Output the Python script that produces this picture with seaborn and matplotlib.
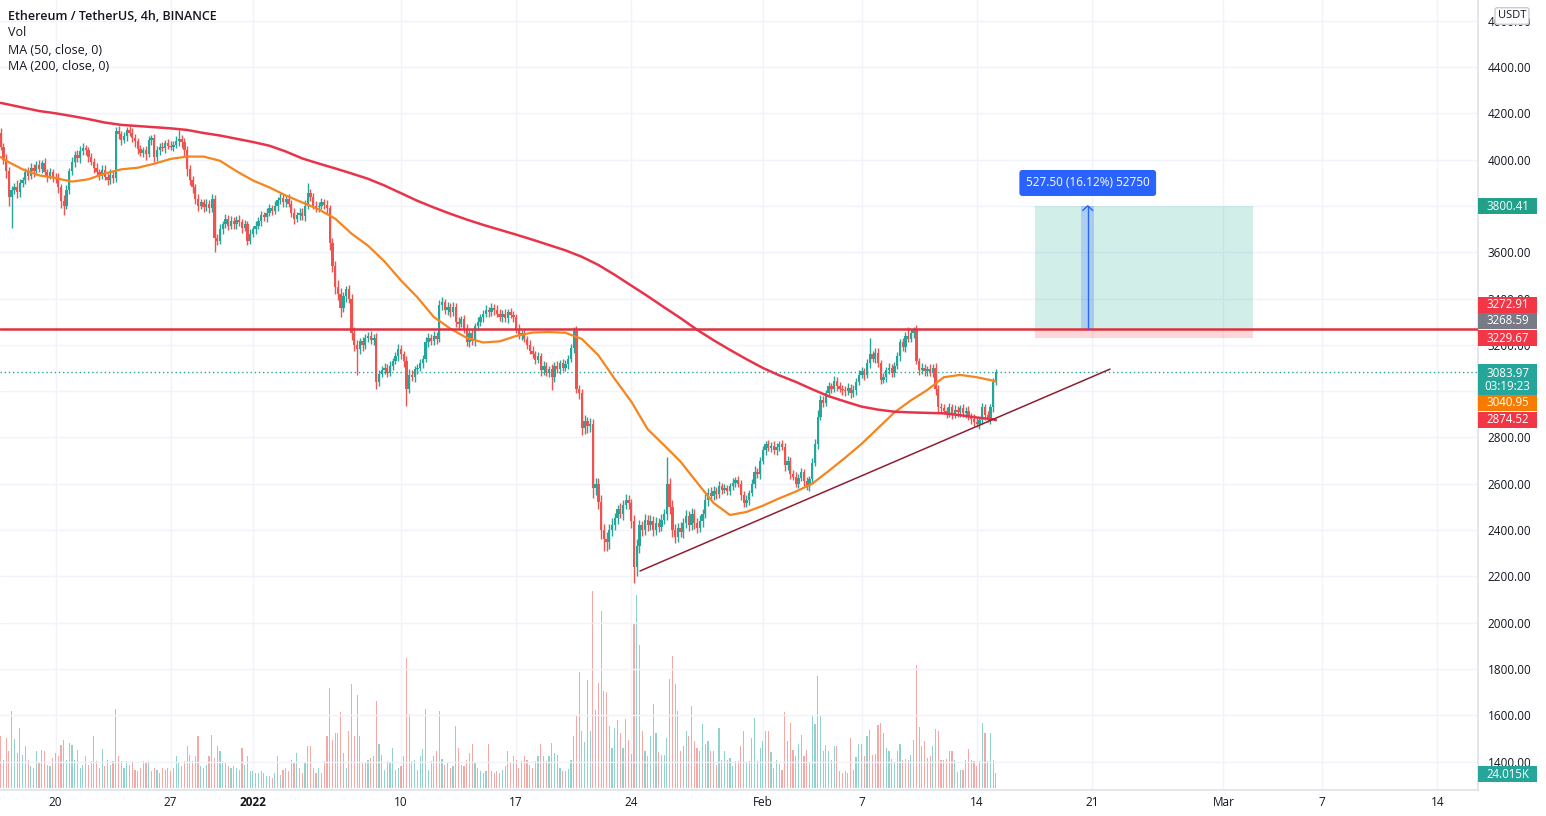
import numpy as np
import pandas as pd
import matplotlib
matplotlib.use("Agg")
import matplotlib.pyplot as plt
import seaborn as sns
from matplotlib.patches import Rectangle

sns.set_theme(style="white")
plt.rcParams['font.family'] = ['Open Sans', 'DejaVu Sans']

# ---------------- data ----------------
start_time = "2021-12-16 16:00"
ref_time = "2021-12-20 00:00"
first_open = 4115
closes = [
    4055, 4000,
    3950, 3840, 3870, 3880, 3860, 3900,   # Dec 17
    3910, 3945, 3930, 3965, 3950, 3975,
    3960, 3985, 3945, 3930, 3945, 3925,
    3920, 3880, 3820, 3800, 3870, 3950,   # Dec 20
    3990, 4020, 4005, 4035, 4050, 4040,
    4010, 3990, 3965, 3945, 3930, 3955,
    3925, 3910, 3935, 3920, 4125, 4110,
    4085, 4100, 4130, 4115, 4095, 4080,
    4045, 4030, 4040, 4025, 4085, 4095,   # Dec 25
    4010, 4040, 4055, 4050, 4070, 4060,
    4055, 4065, 4080, 4090, 4075, 4040,
    3960, 3910, 3880, 3830, 3800, 3815,
    3795, 3810, 3790, 3830, 3660, 3650,
    3700, 3720, 3745, 3715, 3735, 3720,   # Dec 30
    3740, 3730, 3705, 3720, 3650, 3680,
    3700, 3715, 3735, 3760, 3750, 3770,   # Jan 1
    3790, 3780, 3800, 3825, 3835, 3815,
    3830, 3810, 3770, 3745, 3760, 3770,
    3755, 3800, 3855, 3840, 3800, 3795,
    3800, 3815, 3805, 3790, 3640, 3540,   # Jan 5
    3450, 3420, 3360, 3410, 3440, 3400,
    3250, 3200, 3180, 3215, 3200, 3230,
    3240, 3220, 3230, 3040, 3075, 3090,
    3100, 3080, 3110, 3130, 3150, 3180,
    3160, 3130, 3010, 3070, 3060, 3095,   # Jan 10
    3100, 3120, 3140, 3210, 3230, 3215,
    3240, 3225, 3370, 3385, 3350, 3365,
    3340, 3365, 3300, 3290, 3310, 3270,
    3210, 3250, 3215, 3280, 3300, 3320,
    3335, 3350, 3340, 3360, 3350, 3335,   # Jan 15
    3320, 3335, 3315, 3340, 3330, 3320,
    3270, 3240, 3250, 3225, 3200, 3175,
    3160, 3135, 3150, 3090, 3110, 3080,
    3095, 3060, 3110, 3095, 3120, 3100,
    3115, 3140, 3185, 3260, 3010, 2990,   # Jan 20
    2840, 2870, 2850, 2860, 2580, 2600,
    2520, 2400, 2360, 2350, 2400, 2420,
    2450, 2490, 2470, 2510, 2530, 2515,
    2440, 2240, 2330, 2420, 2400, 2445,
    2420, 2440, 2400, 2430, 2415, 2445,   # Jan 25
    2470, 2600, 2500, 2400, 2370, 2410,
    2390, 2430, 2460, 2420, 2470, 2430,
    2410, 2440, 2470, 2530, 2560, 2545,
    2570, 2555, 2590, 2575, 2580, 2570,
    2590, 2605, 2615, 2600, 2550, 2515,   # Jan 30
    2530, 2560, 2600, 2650, 2640, 2700,
    2745, 2770, 2755, 2765, 2745, 2760,   # Feb 1
    2770, 2760, 2680, 2700, 2640, 2630,
    2600, 2625, 2650, 2610, 2590, 2620,
    2690, 2770, 2890, 2960, 2950, 2990,
    3020, 3010, 3045, 3020, 3010, 3005,   # Feb 5
    3000, 3015, 2990, 3005, 3040, 3070,
    3085, 3070, 3120, 3160, 3140, 3165,
    3120, 3050, 3060, 3090, 3100, 3080,
    3110, 3150, 3210, 3190, 3240, 3225,
    3250, 3265, 3130, 3090, 3100, 3085,   # Feb 10
    3095, 3080, 3100, 3010, 2930, 2925,
    2915, 2905, 2930, 2900, 2920, 2910,
    2925, 2905, 2915, 2890, 2880, 2865,
    2860, 2875, 2930, 2895, 2880, 2930,
    3040, 3083.97,
]
wick_up = [
    20, 15,
    25, 20, 15, 20, 30, 15,
    15, 20, 25, 20, 15, 20,
    25, 15, 20, 15, 20, 15,
    15, 20, 15, 25, 20, 15,
    20, 15, 20, 25, 22, 15,
    15, 20, 15, 20, 15, 20,
    20, 15, 25, 15, 15, 20,
    15, 20, 10, 15, 20, 15,
    15, 20, 15, 20, 15, 10,
    15, 20, 15, 20, 15, 20,
    20, 15, 20, 40, 15, 20,
    20, 15, 20, 15, 20, 15,
    15, 20, 15, 20, 15, 20,
    20, 15, 20, 15, 20, 15,
    15, 20, 15, 20, 15, 20,
    15, 20, 15, 20, 15, 20,
    20, 15, 20, 15, 20, 15,
    15, 20, 15, 20, 15, 20,
    20, 25, 45, 20, 15, 20,
    15, 20, 15, 20, 15, 20,
    20, 30, 25, 20, 15, 20,
    20, 25, 20, 15, 20, 15,
    15, 20, 15, 20, 15, 20,
    20, 15, 20, 15, 20, 25,
    20, 15, 20, 25, 20, 15,
    15, 20, 15, 25, 20, 15,
    20, 15, 25, 20, 15, 20,
    15, 20, 15, 20, 15, 20,
    20, 15, 20, 15, 20, 15,
    15, 20, 15, 20, 15, 20,
    20, 15, 20, 15, 20, 15,
    15, 20, 15, 20, 15, 20,
    20, 15, 20, 15, 20, 15,
    15, 20, 15, 20, 15, 20,
    20, 15, 20, 15, 20, 15,
    20, 25, 20, 25, 20, 25,
    25, 30, 25, 30, 25, 30,
    25, 20, 25, 20, 25, 20,
    20, 25, 30, 25, 20, 25,
    20, 25, 20, 25, 20, 25,
    20, 115, 25, 30, 25, 20,
    25, 20, 25, 20, 25, 20,
    20, 25, 20, 25, 20, 25,
    20, 15, 20, 15, 20, 15,
    15, 20, 15, 20, 15, 20,
    20, 15, 20, 25, 20, 15,
    20, 15, 20, 15, 20, 15,
    15, 20, 15, 20, 15, 20,
    20, 15, 20, 15, 20, 15,
    20, 25, 30, 25, 20, 15,
    20, 15, 20, 15, 20, 15,
    15, 20, 15, 20, 15, 20,
    20, 15, 20, 70, 15, 20,
    20, 15, 20, 15, 20, 15,
    15, 20, 15, 20, 15, 35,
    20, 10, 20, 15, 20, 15,
    15, 20, 15, 20, 15, 20,
    20, 15, 20, 15, 20, 15,
    15, 20, 15, 20, 15, 20,
    20, 15, 20, 15, 20, 15,
    15, 10,
]
wick_dn = [
    15, 20,
    30, 40, 135, 20, 25, 20,
    20, 15, 20, 15, 25, 15,
    15, 20, 15, 25, 15, 20,
    20, 25, 30, 40, 15, 20,
    15, 20, 15, 20, 15, 20,
    20, 15, 25, 15, 20, 15,
    15, 20, 15, 20, 15, 20,
    20, 15, 20, 15, 20, 25,
    20, 15, 20, 25, 15, 20,
    20, 15, 20, 15, 20, 15,
    15, 20, 15, 20, 25, 30,
    30, 20, 25, 20, 20, 15,
    20, 15, 20, 15, 60, 20,
    15, 20, 15, 20, 15, 20,
    20, 15, 20, 15, 20, 15,
    15, 20, 15, 20, 15, 20,
    15, 20, 15, 20, 15, 20,
    20, 15, 20, 25, 15, 20,
    15, 20, 15, 20, 15, 20,
    20, 15, 20, 25, 30, 25,
    30, 25, 40, 20, 25, 20,
    30, 25, 110, 20, 25, 20,
    20, 15, 20, 30, 20, 15,
    15, 20, 15, 20, 15, 20,
    20, 25, 75, 20, 15, 20,
    20, 15, 20, 15, 20, 15,
    15, 20, 15, 20, 15, 20,
    20, 15, 25, 20, 15, 20,
    15, 20, 15, 20, 15, 20,
    20, 15, 20, 15, 20, 15,
    15, 20, 15, 20, 15, 20,
    20, 15, 20, 15, 20, 15,
    15, 20, 15, 25, 20, 15,
    20, 55, 20, 15, 20, 15,
    15, 20, 15, 20, 20, 25,
    30, 25, 30, 25, 40, 30,
    30, 40, 50, 40, 30, 25,
    20, 25, 20, 25, 20, 25,
    30, 70, 40, 30, 25, 20,
    25, 20, 25, 20, 25, 20,
    20, 25, 30, 30, 25, 20,
    20, 25, 20, 25, 20, 25,
    25, 20, 25, 20, 25, 20,
    15, 20, 15, 20, 15, 20,
    20, 15, 20, 15, 20, 15,
    15, 20, 15, 20, 15, 20,
    15, 20, 15, 20, 15, 20,
    20, 15, 25, 20, 20, 15,
    15, 20, 15, 20, 15, 20,
    20, 15, 20, 15, 20, 15,
    15, 20, 15, 20, 15, 20,
    20, 15, 20, 15, 20, 15,
    15, 20, 15, 20, 15, 20,
    15, 20, 15, 20, 15, 20,
    20, 15, 20, 15, 20, 15,
    15, 20, 15, 20, 15, 20,
    20, 15, 20, 25, 20, 15,
    15, 20, 15, 20, 15, 20,
    20, 15, 20, 15, 20, 15,
    15, 25, 15, 20, 15, 20,
    20, 15,
]
volumes_k = [
    83, 45,
    80, 59, 123, 78, 56, 96,
    53, 68, 45, 35, 32, 60,
    40, 61, 59, 37, 35, 48,
    56, 51, 69, 77, 45, 72,
    69, 45, 61, 32, 37, 51,
    37, 43, 84, 43, 32, 62,
    35, 45, 37, 43, 126, 51,
    43, 32, 43, 37, 43, 29,
    27, 32, 43, 40, 43, 27,
    32, 29, 24, 32, 29, 32,
    27, 32, 51, 40, 35, 43,
    68, 53, 43, 52, 84, 35,
    32, 37, 51, 85, 48, 67,
    59, 43, 40, 35, 32, 35,
    32, 29, 65, 37, 52, 27,
    27, 24, 24, 27, 24, 19,
    20, 16, 24, 52, 21, 29,
    32, 27, 45, 40, 56, 32,
    24, 40, 68, 68, 32, 24,
    32, 24, 43, 84, 160, 77,
    88, 89, 122, 57, 32, 91,
    166, 84, 149, 84, 40, 40,
    45, 48, 51, 139, 71, 53,
    29, 43, 40, 64, 29, 32,
    35, 51, 209, 118, 43, 45,
    29, 51, 62, 126, 29, 43,
    51, 60, 124, 47, 37, 40,
    32, 35, 99, 64, 37, 35,
    45, 56, 71, 40, 32, 27,
    24, 27, 71, 27, 24, 27,
    25, 29, 35, 59, 40, 51,
    45, 32, 43, 51, 45, 37,
    32, 43, 52, 70, 51, 43,
    51, 72, 57, 53, 32, 27,
    28, 30, 45, 84, 117, 186,
    92, 74, 173, 92, 315, 125,
    168, 283, 155, 154, 99, 65,
    97, 109, 88, 64, 110, 77,
    54, 262, 309, 229, 92, 60,
    51, 83, 135, 88, 58, 53,
    53, 80, 175, 211, 166, 124,
    59, 67, 92, 83, 131, 76,
    64, 59, 103, 71, 76, 59,
    59, 37, 96, 45, 59, 45,
    49, 35, 43, 43, 67, 92,
    40, 43, 81, 112, 43, 64,
    76, 92, 92, 58, 33, 45,
    39, 29, 122, 76, 105, 61,
    51, 71, 85, 51, 61, 40,
    116, 102, 179, 116, 59, 69,
    59, 45, 67, 68, 27, 24,
    28, 24, 80, 29, 50, 70,
    70, 51, 84, 93, 53, 55,
    101, 104, 89, 64, 59, 46,
    40, 59, 70, 45, 46, 45,
    53, 77, 197, 98, 68, 76,
    49, 51, 67, 94, 92, 45,
    45, 47, 60, 60, 45, 26,
    29, 29, 45, 62, 45, 43,
    35, 44, 104, 88, 43, 89,
    45, 24.015,
]
ma50 = [4011,
        3995, 3958, 3932, 3920, 3905, 3915, 3940, 3958, 3965, 3982, 4003, 4013, 4013, 3995, 3950,
        3910, 3880, 3845, 3815, 3785, 3745, 3680, 3628, 3560, 3478, 3405, 3320, 3270, 3230, 3210,
        3215, 3238, 3253, 3255, 3252, 3225, 3155, 3052, 2955, 2835, 2766, 2695, 2605, 2517, 2465, 2478,
        2505, 2537, 2566, 2600, 2655, 2712, 2772, 2840, 2908, 2960, 3005, 3060, 3070, 3060, 3045,
        3040.95]
ma200 = [4245,
         4240, 4225, 4210, 4200, 4188, 4175, 4160, 4150, 4145, 4140, 4135, 4128, 4115, 4104, 4090,
         4076, 4060, 4035, 4005, 3983, 3962, 3940, 3917, 3888, 3855, 3822, 3793, 3766, 3741, 3718,
         3697, 3676, 3654, 3631, 3608, 3580, 3545, 3502, 3456, 3410, 3362, 3315, 3265, 3220, 3178, 3138,
         3100, 3068, 3040, 3008, 2978, 2955, 2933, 2920, 2911, 2908, 2906, 2904, 2896, 2886, 2878,
         2874.52]
tick_dates = ["2021-12-20", "2021-12-27", "2022-01-01", "2022-01-10", "2022-01-17", "2022-01-24",
              "2022-02-01", "2022-02-07", "2022-02-14", "2022-02-21", "2022-03-01", "2022-03-07",
              "2022-03-14"]
tick_labels = ["20", "27", "2022", "10", "17", "24", "Feb", "7", "14", "21", "Mar", "7", "14"]
price_ticks = [1400, 1600, 1800, 2000, 2200, 2400, 2600, 2800, 3000, 3200, 3400, 3600, 3800,
               4000, 4200, 4400, 4600]
hline_price = 3268.59
last_price = 3083.97
target_price = 3800.41
stop_price = 3229.67
trend_dates = ["2022-01-24 12:45", "2022-02-22 02:30"]
trend_prices = [2223, 3095]
pos_dates = ["2022-02-17 13:00", "2022-03-02 19:00"]
arrow_date = "2022-02-20 18:00"
title_lines = ["Ethereum / TetherUS, 4h, BINANCE", "Vol", "MA (50, close, 0)", "MA (200, close, 0)"]

# ---------------- derived ----------------
ref = pd.Timestamp(ref_time)
def to_days(t):
    return (pd.to_datetime(t) - ref) / pd.Timedelta(days=1)

n = len(closes)
assert len(wick_up) == n and len(wick_dn) == n and len(volumes_k) == n
times = pd.date_range(start_time, periods=n, freq="4h")
x = np.asarray(to_days(times), dtype=float)
c = np.array(closes, dtype=float)
o = np.concatenate([[first_open], c[:-1]])
hi = np.maximum(o, c) + np.array(wick_up)
lo = np.minimum(o, c) - np.array(wick_dn)
up = c >= o
TEAL, RED = "#26a69a", "#ef5350"
col = np.where(up, TEAL, RED)

ma_times = [pd.Timestamp(start_time)] + list(pd.date_range("2021-12-17", "2022-02-15", freq="D")) + \
           [pd.Timestamp("2022-02-15 04:00")]
ma_x = np.asarray(to_days(pd.DatetimeIndex(ma_times)), dtype=float)
ma_df = pd.DataFrame({"x": ma_x, "ma50": ma50, "ma200": ma200})

# ---------------- figure ----------------
W, H = 1546, 816
PR, PB = 1478, 790
fig = plt.figure(figsize=(W / 100, H / 100), dpi=100)
fig.patch.set_facecolor("white")
rect = [0, (H - PB) / H, PR / W, PB / H]
axv = fig.add_axes(rect)
ax = fig.add_axes(rect, sharex=axv)
ax.patch.set_alpha(0)

xmin, xmax = -55.5 / 16.45, (PR - 55.5) / 16.45
ax.set_xlim(xmin, xmax)
ax.set_ylim(1277, 4689.4)

# volume
axv.set_ylim(-3, 1261)
vcol = np.where(up, "#26a69a", "#ef5350")
axv.bar(x, volumes_k, width=0.07, color=vcol, alpha=0.5, linewidth=0)
axv.set_axis_off()

# grid
tick_x = np.asarray(to_days(pd.DatetimeIndex(tick_dates)), dtype=float)
for tx in tick_x:
    axv.axvline(tx, color="#f0f3fa", lw=1, zorder=0)
for p in price_ticks:
    ax.axhline(p, color="#f0f3fa", lw=1, zorder=0)

# candles
ax.vlines(x, lo, hi, colors=col, lw=1, zorder=3)
body = np.maximum(np.abs(c - o), 2)
ax.bar(x, body, bottom=np.minimum(o, c), width=0.14, color=col, linewidth=0, zorder=4)

# moving averages
sns.lineplot(data=ma_df, x="x", y="ma50", ax=ax, color="#f7841d", lw=1.6, zorder=5)
sns.lineplot(data=ma_df, x="x", y="ma200", ax=ax, color="#e8344a", lw=1.8, zorder=5)

# lines
ax.axhline(hline_price, color="#dd3341", lw=1.8, zorder=6)
ax.axhline(last_price, color="#26a69a", lw=1, ls=(0, (1, 2)), zorder=2)
tx_ = np.asarray(to_days(pd.DatetimeIndex(trend_dates)), dtype=float)
ax.plot(tx_, trend_prices, color="#8e1f32", lw=1.1, zorder=6)

# position tool
px0, px1 = np.asarray(to_days(pd.DatetimeIndex(pos_dates)), dtype=float)
ax.add_patch(Rectangle((px0, hline_price), px1 - px0, target_price - hline_price,
                       facecolor="#22ab94", alpha=0.2, lw=0, zorder=1))
ax.add_patch(Rectangle((px0, stop_price), px1 - px0, hline_price - stop_price,
                       facecolor="#f23645", alpha=0.2, lw=0, zorder=1))
axx = float(to_days(arrow_date))
ax.add_patch(Rectangle((axx - 0.4, hline_price), 0.8, target_price - hline_price,
                       facecolor="#2962ff", alpha=0.22, lw=0, zorder=2))
ax.plot([axx, axx], [hline_price, target_price], color="#2962ff", lw=1, zorder=7)
ax.plot([axx - 0.3, axx, axx + 0.3], [target_price - 20, target_price, target_price - 20],
        color="#2962ff", lw=1, zorder=7)
ax.text(axx, 3899, "527.50 (16.12%) 52750", ha="center", va="center", color="white",
        fontsize=8.5, zorder=8,
        bbox=dict(boxstyle="round,pad=0.55,rounding_size=0.25", fc="#2962ff", ec="none"))

# axes styling
for s in ["top", "left"]:
    ax.spines[s].set_visible(False)
for s in ["right", "bottom"]:
    ax.spines[s].set_color("#e0e3eb")
ax.yaxis.tick_right()
ax.set_yticks(price_ticks)
ax.set_yticklabels([f"{p:.2f}" for p in price_ticks])
ax.tick_params(axis="y", length=0, pad=7, labelsize=8.5, colors="#131722")
ax.set_xticks(tick_x)
ax.set_xticklabels(tick_labels)
ax.tick_params(axis="x", length=0, pad=4, labelsize=8.5, colors="#131722")
for lab in ax.get_xticklabels():
    if lab.get_text() == "2022":
        lab.set_fontweight("bold")
ax.set_xlabel("")
ax.set_ylabel("")
axv.set_xlim(xmin, xmax)

# legend text
fig.text(8 / W, 1 - 16 / H, title_lines[0], fontsize=9, fontweight="semibold", color="#131722", va="center")
for k, t in enumerate(title_lines[1:]):
    fig.text(8 / W, 1 - (33 + 17 * k) / H, t, fontsize=9, color="#131722", va="center")

# price tags
def tag(yc, lines, color, h=16):
    fig.patches.append(Rectangle((PR / W, 1 - (yc + h / 2) / H), 59 / W, h / H,
                                 transform=fig.transFigure, facecolor=color, edgecolor="none",
                                 zorder=10))
    if isinstance(lines, str):
        lines = [lines]
    nl = len(lines)
    for k, t in enumerate(lines):
        yy = yc + (k - (nl - 1) / 2) * 13.5
        fig.text((PR + 29.5) / W, 1 - yy / H, t, ha="center", va="center", color="white",
                 fontsize=8.3, zorder=11)

tag(206, "3800.41", "#22a08a")
tag(305, "3272.91", "#f23645")
tag(321, "3268.59", "#787b86")
tag(338, "3229.67", "#f23645")
tag(380, ["3083.97", "03:19:23"], "#26a69a", h=31)
tag(403, "3040.95", "#f57c00")
tag(420, "2874.52", "#f23645")
tag(774, "24.015K", "#26a69a")

fig.text(1512 / W, 1 - 16 / H, "USDT", ha="center", va="center", fontsize=8, color="#131722",
         bbox=dict(boxstyle="round,pad=0.25,rounding_size=0.2", fc="white", ec="#c8cbd3"),
         zorder=12)

fig.savefig("out.png", dpi=100, facecolor="white")
